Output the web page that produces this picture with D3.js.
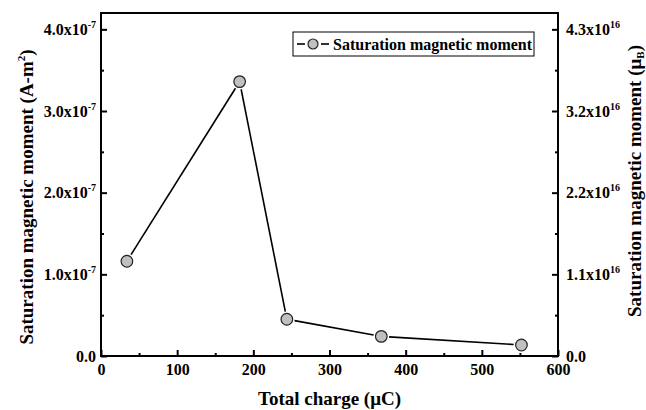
<!doctype html>
<html>
<head>
<meta charset="UTF-8">
<title>saturation moment</title>
<script src="https://d3js.org/d3.v7.min.js"></script>
<style>
  body { margin: 0; background: #fff; }
  svg text { font-family: "Liberation Serif", "Times New Roman", serif; font-weight: bold; fill: #000; }
</style>
</head>
<body>
<svg id="chart" width="646" height="410"></svg>
<script>
// data
var charge = [34, 182, 244, 368, 552];              // total charge (uC)
var moment = [1.16e-7, 3.36e-7, 0.45e-7, 0.24e-7, 0.135e-7]; // A-m^2
var xTicks = [0, 100, 200, 300, 400, 500, 600];
var yTicks = [0, 1e-7, 2e-7, 3e-7, 4e-7];
var muB = 9.274e-24;
var seriesName = "Saturation magnetic moment";

var svg = d3.select("#chart");
var pL = 101, pR = 558, pT = 13, pB = 356;

var x = d3.scaleLinear().domain([0, 600]).range([pL, pR]);
var y = d3.scaleLinear().domain([0, 4.2e-7]).range([pB, pT]);
var y2 = d3.scaleLinear().domain([0, 4.2e-7 / muB]).range([pB, pT]);

function sup(sel, base, exp) {
  sel.text(null);
  sel.append("tspan").text(base);
  if (exp !== null) {
    sel.append("tspan").attr("dy", -7).attr("font-size", 10).text(exp);
  }
}

// frame
svg.append("rect")
   .attr("x", pL).attr("y", pT)
   .attr("width", pR - pL).attr("height", pB - pT)
   .attr("fill", "none").attr("stroke", "#000").attr("stroke-width", 2);

// minor ticks
var minorX = d3.range(50, 600, 100);
var minorY = [0.5e-7, 1.5e-7, 2.5e-7, 3.5e-7];
function noDomain(g) { g.select(".domain").remove(); g.selectAll("text").remove(); }

svg.append("g").attr("transform", "translate(0," + pB + ")")
   .call(d3.axisBottom(x).tickValues(minorX).tickSize(-3)).call(noDomain);
svg.append("g").attr("transform", "translate(" + pL + ",0)")
   .call(d3.axisLeft(y).tickValues(minorY).tickSize(-3)).call(noDomain);
svg.append("g").attr("transform", "translate(" + pR + ",0)")
   .call(d3.axisRight(y).tickValues(minorY).tickSize(-3)).call(noDomain);

// x axis
var gx = svg.append("g").attr("transform", "translate(0," + pB + ")")
   .call(d3.axisBottom(x).tickValues(xTicks).tickSize(-6).tickPadding(8));
gx.select(".domain").remove();
gx.selectAll("text").attr("font-size", 16);

// left y axis
var gy = svg.append("g").attr("transform", "translate(" + pL + ",0)")
   .call(d3.axisLeft(y).tickValues(yTicks).tickSize(-6).tickPadding(5));
gy.select(".domain").remove();
gy.selectAll("text").attr("font-size", 16)
  .each(function(d) {
    if (d === 0) sup(d3.select(this), "0.0", null);
    else sup(d3.select(this), (d / 1e-7).toFixed(1) + "x10", "-7");
  });

// right y axis (Bohr magnetons)
var gy2 = svg.append("g").attr("transform", "translate(" + pR + ",0)")
   .call(d3.axisRight(y2).tickValues(yTicks.map(function(v) { return v / muB; }))
         .tickSize(-6).tickPadding(8));
gy2.select(".domain").remove();
gy2.selectAll("text").attr("font-size", 16)
  .each(function(d) {
    if (d === 0) sup(d3.select(this), "0.0", null);
    else sup(d3.select(this), (d / 1e16).toFixed(1) + "x10", "16");
  });

svg.selectAll(".tick line").attr("stroke", "#000").attr("stroke-width", 2);

// line with gaps around markers
var r = 5.8, gap = r + 2;
var pts = charge.map(function(c, i) { return [x(c), y(moment[i])]; });
for (var i = 0; i < pts.length - 1; i++) {
  var a = pts[i], b = pts[i + 1];
  var dx = b[0] - a[0], dy = b[1] - a[1], len = Math.sqrt(dx * dx + dy * dy);
  var ux = dx / len, uy = dy / len;
  svg.append("line")
     .attr("x1", a[0] + ux * gap).attr("y1", a[1] + uy * gap)
     .attr("x2", b[0] - ux * gap).attr("y2", b[1] - uy * gap)
     .attr("stroke", "#000").attr("stroke-width", 1.6);
}
svg.selectAll("circle.pt").data(charge).enter().append("circle")
   .attr("class", "pt")
   .attr("cx", function(d) { return x(d); })
   .attr("cy", function(d, i) { return y(moment[i]); })
   .attr("r", r)
   .attr("fill", "#c0c0c0").attr("stroke", "#222").attr("stroke-width", 1.2);

// legend
var lg = svg.append("g").attr("transform", "translate(293,32)");
lg.append("rect").attr("width", 241).attr("height", 24)
  .attr("fill", "#fff").attr("stroke", "#000").attr("stroke-width", 1);
lg.append("line").attr("x1", 4).attr("x2", 12).attr("y1", 12).attr("y2", 12)
  .attr("stroke", "#000").attr("stroke-width", 1.6);
lg.append("line").attr("x1", 28).attr("x2", 36).attr("y1", 12).attr("y2", 12)
  .attr("stroke", "#000").attr("stroke-width", 1.6);
lg.append("circle").attr("cx", 20).attr("cy", 12).attr("r", 5)
  .attr("fill", "#c0c0c0").attr("stroke", "#222").attr("stroke-width", 1.2);
lg.append("text").attr("x", 40).attr("y", 17.5).attr("font-size", 16).text(seriesName);

// axis titles
svg.append("text").attr("x", (pL + pR) / 2).attr("y", 405)
   .attr("text-anchor", "middle").attr("font-size", 19)
   .text("Total charge (\u03bcC)");

var t1 = svg.append("text")
   .attr("transform", "translate(33,197) rotate(-90)")
   .attr("text-anchor", "middle").attr("font-size", 19);
t1.append("tspan").text("Saturation magnetic moment (A-m");
t1.append("tspan").attr("dy", -8).attr("font-size", 11).text("2");
t1.append("tspan").attr("dy", 8).text(")");

var t2 = svg.append("text")
   .attr("transform", "translate(641,181) rotate(-90)")
   .attr("text-anchor", "middle").attr("font-size", 19);
t2.append("tspan").text("Saturation magnetic moment (\u03bc");
t2.append("tspan").attr("dy", 3).attr("font-size", 11).text("B");
t2.append("tspan").attr("dy", -3).text(")");
</script>
</body>
</html>
